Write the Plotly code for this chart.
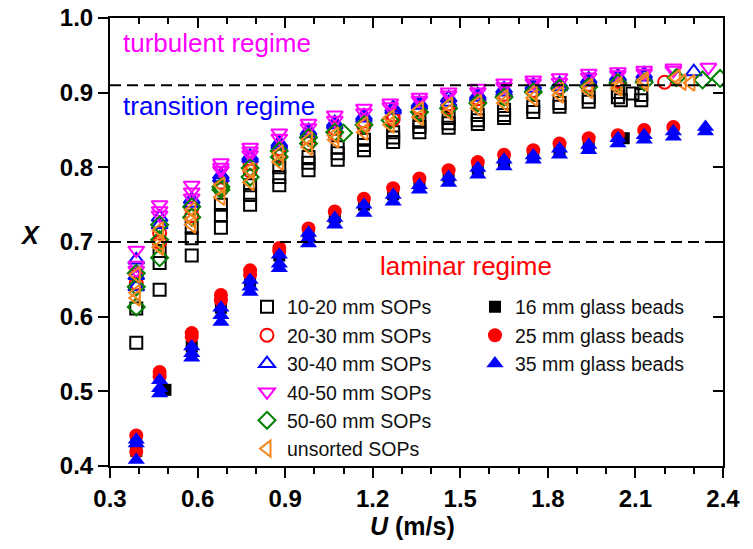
import plotly.graph_objects as go

# ---------------- data ----------------
# SOPs (open symbols)
sop1020_U = [0.39, 0.39, 0.47, 0.47, 0.47, 0.58, 0.58, 0.58, 0.68, 0.68, 0.68, 0.78, 0.78, 0.78,
             0.88, 0.88, 0.88, 0.98, 0.98, 0.98, 1.08, 1.08, 1.08, 1.17, 1.17, 1.17, 1.27, 1.27, 1.27,
             1.36, 1.36, 1.36, 1.46, 1.46, 1.46, 1.56, 1.56, 1.56, 1.65, 1.65, 1.65, 1.75, 1.75,
             1.84, 1.84, 1.94, 1.94, 2.04, 2.04, 2.05, 2.09, 2.12, 2.12]
sop1020_X = [0.611, 0.565, 0.688, 0.672, 0.636, 0.719, 0.705, 0.682, 0.750, 0.736, 0.719, 0.776, 0.763, 0.750,
             0.800, 0.787, 0.776, 0.814, 0.806, 0.796, 0.827, 0.819, 0.810, 0.837, 0.830, 0.823, 0.847, 0.840, 0.834,
             0.861, 0.854, 0.847, 0.866, 0.859, 0.853, 0.870, 0.863, 0.858, 0.877, 0.870, 0.866, 0.881, 0.874,
             0.886, 0.881, 0.894, 0.888, 0.901, 0.894, 0.890, 0.899, 0.890, 0.897]

sop2030_U = [0.39, 0.39, 0.47, 0.47, 0.58, 0.58, 0.68, 0.68, 0.78, 0.78, 0.88, 0.88, 0.98, 0.98,
             1.07, 1.07, 1.17, 1.17, 1.27, 1.27, 1.36, 1.36, 1.46, 1.46, 1.56, 1.56, 1.65, 1.75,
             1.84, 1.94, 2.04, 2.20]
sop2030_X = [0.645, 0.655, 0.712, 0.700, 0.745, 0.735, 0.780, 0.770, 0.805, 0.795, 0.825, 0.815, 0.840, 0.832,
             0.852, 0.845, 0.862, 0.855, 0.870, 0.864, 0.880, 0.874, 0.885, 0.880, 0.892, 0.886, 0.898, 0.903,
             0.907, 0.911, 0.915, 0.914]

sop3040_U = [0.39, 0.39, 0.39, 0.47, 0.47, 0.58, 0.58, 0.68, 0.68, 0.78, 0.78, 0.88, 0.88, 0.98, 0.98,
             1.07, 1.07, 1.17, 1.17, 1.27, 1.27, 1.36, 1.36, 1.46, 1.46, 1.56, 1.56, 1.65, 1.65,
             1.75, 1.75, 1.84, 1.84, 1.94, 1.94, 2.04, 2.04, 2.13, 2.13, 2.30]
sop3040_X = [0.676, 0.655, 0.640, 0.733, 0.723, 0.757, 0.752, 0.790, 0.786, 0.815, 0.812, 0.833, 0.830, 0.849, 0.846,
             0.860, 0.857, 0.869, 0.866, 0.880, 0.877, 0.886, 0.883, 0.893, 0.887, 0.897, 0.894, 0.905, 0.901,
             0.910, 0.906, 0.912, 0.908, 0.918, 0.914, 0.922, 0.920, 0.925, 0.921, 0.928]

sop4050_U = [0.39, 0.39, 0.39, 0.47, 0.47, 0.47, 0.58, 0.58, 0.58, 0.68, 0.68, 0.68, 0.78, 0.78, 0.78,
             0.88, 0.88, 0.98, 0.98, 1.07, 1.07, 1.17, 1.17, 1.26, 1.26, 1.36, 1.36, 1.46, 1.46,
             1.56, 1.56, 1.65, 1.65, 1.75, 1.75, 1.84, 1.84, 1.94, 1.94, 2.04, 2.04, 2.13, 2.13,
             2.23, 2.23, 2.35]
sop4050_X = [0.689, 0.669, 0.662, 0.750, 0.742, 0.736, 0.776, 0.767, 0.759, 0.806, 0.800, 0.796, 0.827, 0.822, 0.817,
             0.846, 0.839, 0.859, 0.853, 0.870, 0.863, 0.879, 0.873, 0.886, 0.881, 0.894, 0.890, 0.901, 0.897,
             0.906, 0.901, 0.913, 0.908, 0.917, 0.913, 0.920, 0.914, 0.926, 0.921, 0.928, 0.924, 0.930, 0.926,
             0.933, 0.930, 0.934]

sop5060_U = [0.39, 0.39, 0.39, 0.47, 0.47, 0.47, 0.58, 0.58, 0.68, 0.68, 0.78, 0.78, 0.88, 0.88, 0.98, 0.98,
             1.07, 1.10, 1.17, 1.26, 1.36, 1.46, 1.56, 1.65, 1.75, 1.84, 1.94, 2.04, 2.13, 2.24, 2.33, 2.39]
sop5060_X = [0.658, 0.640, 0.613, 0.723, 0.703, 0.679, 0.747, 0.733, 0.774, 0.770, 0.799, 0.787, 0.822, 0.814, 0.840, 0.832,
             0.847, 0.846, 0.857, 0.863, 0.874, 0.879, 0.886, 0.894, 0.901, 0.906, 0.908, 0.913, 0.914, 0.920, 0.917, 0.919]

unsorted_U = [0.39, 0.39, 0.39, 0.47, 0.47, 0.47, 0.58, 0.58, 0.58, 0.68, 0.68, 0.78, 0.78, 0.88, 0.88,
              0.98, 0.98, 1.07, 1.07, 1.17, 1.17, 1.26, 1.26, 1.36, 1.36, 1.46, 1.46, 1.56, 1.56,
              1.65, 1.65, 1.75, 1.75, 1.84, 1.84, 1.94, 1.94, 2.04, 2.04, 2.13, 2.13, 2.24, 2.26, 2.29]
unsorted_X = [0.656, 0.632, 0.625, 0.716, 0.699, 0.693, 0.743, 0.730, 0.723, 0.776, 0.760, 0.796, 0.780, 0.819, 0.807,
              0.837, 0.827, 0.843, 0.837, 0.857, 0.847, 0.866, 0.857, 0.877, 0.867, 0.883, 0.874, 0.886, 0.879,
              0.893, 0.886, 0.900, 0.893, 0.903, 0.897, 0.908, 0.903, 0.910, 0.906, 0.917, 0.913, 0.920, 0.914, 0.913]

# glass beads (filled symbols)
gb16_U = [0.39, 0.39, 0.49, 0.58, 0.68, 0.78, 0.88, 0.98, 1.07, 1.17, 1.27, 1.36, 1.46, 1.56, 1.65, 1.75, 1.84, 1.94, 2.06]
gb16_X = [0.430, 0.420, 0.502, 0.560, 0.612, 0.648, 0.682, 0.710, 0.733, 0.750, 0.764, 0.778, 0.788, 0.798, 0.808,
          0.816, 0.824, 0.830, 0.839]

gb25_U = [0.39, 0.39, 0.47, 0.47, 0.58, 0.58, 0.68, 0.68, 0.78, 0.78, 0.88, 0.88, 0.98, 1.07, 1.17, 1.27,
          1.36, 1.46, 1.56, 1.65, 1.75, 1.84, 1.94, 2.04, 2.13, 2.23]
gb25_X = [0.441, 0.419, 0.526, 0.520, 0.578, 0.573, 0.629, 0.622, 0.662, 0.656, 0.692, 0.688, 0.718, 0.741, 0.758, 0.772,
          0.785, 0.796, 0.807, 0.817, 0.823, 0.832, 0.839, 0.843, 0.850, 0.854]

gb35_U = [0.39, 0.39, 0.39, 0.47, 0.47, 0.47, 0.58, 0.58, 0.58, 0.68, 0.68, 0.68, 0.78, 0.78, 0.78,
          0.88, 0.88, 0.88, 0.98, 0.98, 0.98, 1.07, 1.07, 1.17, 1.17, 1.27, 1.27, 1.36, 1.36, 1.46, 1.46,
          1.56, 1.56, 1.65, 1.65, 1.75, 1.75, 1.84, 1.84, 1.94, 1.94, 2.04, 2.04, 2.13, 2.13, 2.23, 2.23, 2.34, 2.34]
gb35_X = [0.435, 0.430, 0.408, 0.515, 0.504, 0.497, 0.560, 0.551, 0.545, 0.612, 0.602, 0.593, 0.649, 0.640, 0.633,
          0.683, 0.671, 0.665, 0.712, 0.705, 0.698, 0.732, 0.723, 0.750, 0.739, 0.763, 0.754, 0.776, 0.770, 0.787, 0.779,
          0.799, 0.790, 0.810, 0.801, 0.816, 0.810, 0.825, 0.817, 0.830, 0.823, 0.839, 0.832, 0.843, 0.837, 0.848, 0.841,
          0.854, 0.848]

regime_bounds = [0.70, 0.91]
x_range = [0.3, 2.4]
y_range = [0.4, 1.0]

FONT = "Liberation Sans, Arial, sans-serif"

fig = go.Figure()

def add(U, X, name, symbol, color, size, legend, lw=2):
    fig.add_trace(go.Scatter(
        x=U, y=X, mode="markers", name=name, legend=legend,
        marker=dict(symbol=symbol, size=size, color=color,
                    line=dict(color=color, width=lw)),
    ))

add(sop1020_U, sop1020_X, "10-20 mm SOPs", "square-open", "#000000", 12, "legend")
add(sop2030_U, sop2030_X, "20-30 mm SOPs", "circle-open", "#FF0000", 13, "legend")
add(sop3040_U, sop3040_X, "30-40 mm SOPs", "triangle-up-open", "#0000FF", 14, "legend")
add(sop4050_U, sop4050_X, "40-50 mm SOPs", "triangle-down-open", "#FF00FF", 14, "legend")
add(sop5060_U, sop5060_X, "50-60 mm SOPs", "diamond-open", "#008000", 13, "legend")
add(unsorted_U, unsorted_X, "unsorted SOPs", "triangle-left-open", "#F7861E", 14, "legend")

add(gb16_U, gb16_X, "16 mm glass beads", "square", "#000000", 12, "legend2", 0)
add(gb25_U, gb25_X, "25 mm glass beads", "circle", "#FF0000", 14, "legend2", 0)
add(gb35_U, gb35_X, "35 mm glass beads", "triangle-up", "#0000FF", 15, "legend2", 0)

# helper trace so the mirrored (inward tick) axes are drawn
fig.add_trace(go.Scatter(x=[None], y=[None], xaxis="x2", yaxis="y2",
                         showlegend=False, hoverinfo="skip"))

for yb in regime_bounds:
    fig.add_shape(type="line", xref="x", yref="y", x0=x_range[0], x1=x_range[1], y0=yb, y1=yb,
                  line=dict(color="black", width=2, dash="11px,6px"))

tickfont = dict(family=FONT, size=24, color="black", weight="bold")
eps = 1e-6
axis_common = dict(showgrid=False, zeroline=False, tickcolor="black", tickwidth=2, ticklen=10,
                   automargin=False)

fig.update_layout(
    width=753, height=549, autosize=False,
    margin=dict(l=110, r=30, t=18, b=83),
    plot_bgcolor="white", paper_bgcolor="white",
    font=dict(family=FONT, color="black"),
    xaxis=dict(range=[x_range[0], x_range[1] + eps], tick0=0.3, dtick=0.3, tickformat=".1f",
               ticks="outside", showline=True, linecolor="black", linewidth=2, mirror=True,
               tickfont=tickfont,
               minor=dict(tick0=0.3, dtick=0.1, ticks="outside", ticklen=6, tickwidth=2,
                          tickcolor="black", showgrid=False),
               **axis_common),
    yaxis=dict(range=[y_range[0], y_range[1] + eps], tick0=0.4, dtick=0.1, tickformat=".1f",
               ticks="outside", showline=True, linecolor="black", linewidth=2, mirror=True,
               tickfont=tickfont, **axis_common),
    xaxis2=dict(overlaying="x", side="top", range=[x_range[0], x_range[1] + eps], tick0=0.3, dtick=0.3,
                ticks="inside", showticklabels=False, showline=False,
                minor=dict(tick0=0.3, dtick=0.1, ticks="inside", ticklen=6, tickwidth=2,
                           tickcolor="black", showgrid=False),
                **axis_common),
    yaxis2=dict(overlaying="y", side="right", range=[y_range[0], y_range[1] + eps], tick0=0.4, dtick=0.1,
                ticks="inside", showticklabels=False, showline=False, **axis_common),
    legend=dict(x=0.2235, xanchor="left", y=0.398, yanchor="top", bgcolor="rgba(0,0,0,0)",
                font=dict(family=FONT, size=19.5, color="#111111"), itemsizing="trace",
                tracegroupgap=0),
    legend2=dict(x=0.5954, xanchor="left", y=0.398, yanchor="top", bgcolor="rgba(0,0,0,0)",
                 font=dict(family=FONT, size=19.5, color="#111111"), itemsizing="trace"),
    showlegend=True,
)

# regime labels
fig.add_annotation(x=0.338, y=0.9665, xref="x", yref="y", text="turbulent regime", showarrow=False,
                   xanchor="left", yanchor="middle", font=dict(family=FONT, size=26, color="#FF00FF"))
fig.add_annotation(x=0.338, y=0.882, xref="x", yref="y", text="transition regime", showarrow=False,
                   xanchor="left", yanchor="middle", font=dict(family=FONT, size=26, color="#0000FF"))
fig.add_annotation(x=1.218, y=0.668, xref="x", yref="y", text="laminar regime", showarrow=False,
                   xanchor="left", yanchor="middle", font=dict(family=FONT, size=26, color="#FF0000"))

# axis titles
fig.add_annotation(x=0.494, y=-0.134, xref="paper", yref="paper", text="<b><i>U</i> (m/s)</b>",
                   showarrow=False, xanchor="center", yanchor="middle",
                   font=dict(family=FONT, size=25, color="black"))
fig.add_annotation(x=-0.13, y=0.516, xref="paper", yref="paper", text="<b><i>X</i></b>",
                   showarrow=False, xanchor="center", yanchor="middle",
                   font=dict(family=FONT, size=25, color="black"))

fig.write_html("out.html")
